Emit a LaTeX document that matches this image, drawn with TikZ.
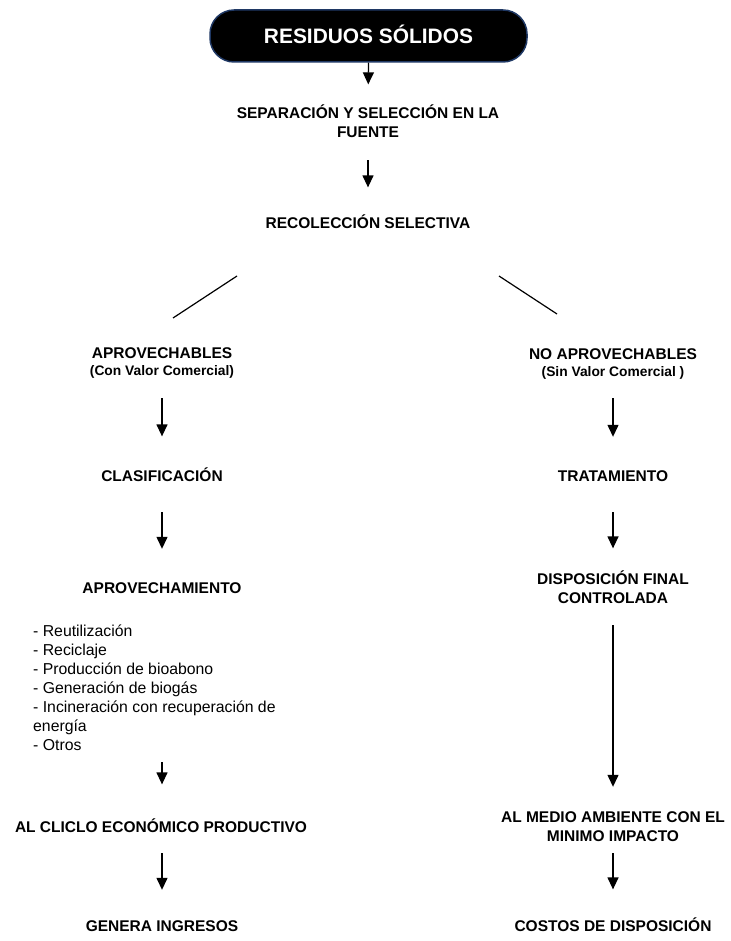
\documentclass[tikz,border=0pt]{standalone}
\usepackage{fontspec}
\setmainfont{Liberation Sans}
\usetikzlibrary{arrows.meta}
\definecolor{boxborder}{RGB}{31,56,100}
\newcommand{\twolines}[2]{\begin{tabular}[t]{@{}c@{}}#1\\#2\end{tabular}}
\newcommand{\withsub}[2]{\begin{tabular}[t]{@{}c@{}}#1\\[-2pt]{\fontsize{13.8}{17}\selectfont #2}\end{tabular}}
\begin{document}
\begin{tikzpicture}[x=1pt,y=-1pt,
  lbl/.style={inner sep=0pt, anchor=base, font=\fontsize{15.5}{19}\selectfont\bfseries},
  listtext/.style={inner sep=0pt, anchor=base west, font=\fontsize{15.8}{19}\selectfont},
  topbox/.style={rounded corners=24pt, fill=black, draw=boxborder, line width=1.5pt,
    minimum width=317pt, minimum height=52pt, inner sep=0pt, text=white,
    font=\fontsize{20.9}{25}\selectfont\bfseries, text height=15pt, text depth=0pt},
  arr/.style={line width=1.3pt, -{Triangle[width=11pt,length=12pt]}},
  plainline/.style={line width=1.2pt}]
\useasboundingbox (0,0) rectangle (730,941);

\node[topbox] (top) at (368.5,36) {RESIDUOS SÓLIDOS};
\node[lbl] (sep) at (368,119) {\twolines{SEPARACIÓN Y SELECCIÓN EN LA}{FUENTE}};
\node[lbl] (reco) at (368,229) {\strut RECOLECCIÓN SELECTIVA};

\coordinate (dlA) at (237,276);
\coordinate (dlB) at (173,318);
\coordinate (drA) at (499,276);
\coordinate (drB) at (557,314);
\draw[plainline] (dlA) -- (dlB);
\draw[plainline] (drA) -- (drB);

\node[lbl] (aprov) at (162,358) {\withsub{APROVECHABLES}{(Con Valor Comercial)}};
\node[lbl] (noaprov) at (613,359) {\withsub{NO APROVECHABLES}{(Sin Valor Comercial )}};
\node[lbl] (clasif) at (162,481) {\strut CLASIFICACIÓN};
\node[lbl] (trat) at (613,481) {\strut TRATAMIENTO};
\node[lbl] (aprovech) at (162,593) {\strut APROVECHAMIENTO};
\node[lbl] (disp) at (613,584) {\twolines{DISPOSICIÓN FINAL}{CONTROLADA}};
\node[listtext] (list) at (33,636) {\begin{tabular}[t]{@{}l@{}}- Reutilización\\- Reciclaje\\- Producción de bioabono\\- Generación de biogás\\- Incineración con recuperación de\\energía\\- Otros\end{tabular}};
\node[lbl] (ciclo) at (161,832) {\strut AL CLICLO ECONÓMICO PRODUCTIVO};
\node[lbl] (medio) at (613,822) {\twolines{AL MEDIO AMBIENTE CON EL}{MINIMO IMPACTO}};
\node[lbl] (genera) at (162,931) {\strut GENERA INGRESOS};
\node[lbl] (costos) at (613,931) {\strut COSTOS DE DISPOSICIÓN};

\draw[arr, shorten >=20.7pt] (top.south) -- (sep.north);
\draw[arr, shorten <=16.3pt, shorten >=27.7pt] (sep.south) -- (reco.north);
\draw[arr, shorten <=17.3pt, shorten >=30.7pt] (aprov.south) -- (clasif.north);
\draw[arr, shorten <=16.3pt, shorten >=30.7pt] (noaprov.south) -- (trat.north);
\draw[arr, shorten <=25.3pt, shorten >=30.7pt] (clasif.south) -- (aprovech.north);
\draw[arr, shorten <=25.3pt, shorten >=21.7pt] (trat.south) -- (disp.north);
\draw[arr, shorten <=6.3pt, shorten >=33.7pt] (list.south -| aprovech.north) -- (aprovech.north |- ciclo.north);
\draw[arr, shorten <=16.3pt, shorten >=21.7pt] (disp.south) -- (medio.north);
\draw[arr, shorten <=15.3pt, shorten >=27.7pt] (ciclo.south -| genera.north) -- (genera.north);
\draw[arr, shorten <=6.3pt, shorten >=27.7pt] (medio.south) -- (costos.north);
\end{tikzpicture}
\end{document}
